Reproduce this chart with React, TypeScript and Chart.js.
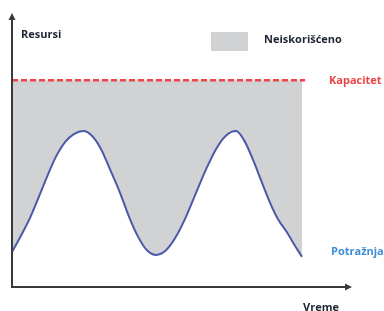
import React, { useEffect, useRef } from "react";
import { Chart, registerables } from "chart.js";

Chart.register(...registerables);

// Time axis positions (arbitrary units) and demand values
const demandX = [0, 2.6, 5.3, 7.9, 10.3, 12.9, 15.6, 18.2, 20.9, 23.5, 26.2, 28.8, 31.8, 34.4, 37.1, 39.7, 42.4, 45.3, 48.2, 51.2, 54.1, 57.1, 60.0, 62.9, 65.9, 68.2, 70.9, 73.2, 75.9, 78.2, 80.9, 82.9, 85.3];
const demandY = [12.8, 18.6, 25.2, 32.9, 40.2, 47.5, 52.9, 55.8, 56.9, 55.2, 50.3, 43.0, 34.3, 25.7, 18.3, 13.4, 11.7, 13.4, 18.3, 25.7, 34.3, 43.0, 50.3, 55.2, 56.9, 53.7, 46.4, 39.1, 30.7, 24.8, 19.9, 15.7, 11.0];
const capacityX = [0, 86.2];
const capacityValue = 75.5;

const yLabel = "Resursi";
const xLabel = "Vreme";
const legendLabel = "Neiskorišćeno";
const capacityLabel = "Kapacitet";
const demandLabel = "Potražnja";

const GRAY = "#d1d2d4";
const RED = "#ef4446";
const BLUE = "#4a5aa8";
const BLUE_TEXT = "#3d8ed8";
const DARK = "#1e2532";
const AXIS = "#3a3a3a";
const FONT = "bold 11px 'Open Sans', Lato, sans-serif";

const decorPlugin = {
  id: "decor",
  afterDraw(chart: any) {
    const { ctx, chartArea, scales } = chart;
    const { left, top, right, bottom } = chartArea;
    ctx.save();
    // axes
    ctx.strokeStyle = AXIS;
    ctx.fillStyle = AXIS;
    ctx.lineWidth = 2;
    ctx.beginPath();
    ctx.moveTo(left, top + 4);
    ctx.lineTo(left, bottom);
    ctx.lineTo(right - 4, bottom);
    ctx.stroke();
    // arrow heads
    ctx.beginPath();
    ctx.moveTo(left, top);
    ctx.lineTo(left - 3.5, top + 7);
    ctx.lineTo(left + 3.5, top + 7);
    ctx.closePath();
    ctx.fill();
    ctx.beginPath();
    ctx.moveTo(right, bottom);
    ctx.lineTo(right - 7, bottom - 3.5);
    ctx.lineTo(right - 7, bottom + 3.5);
    ctx.closePath();
    ctx.fill();

    // texts
    ctx.font = FONT;
    ctx.textAlign = "left";
    ctx.textBaseline = "alphabetic";
    ctx.fillStyle = DARK;
    ctx.fillText(yLabel, 21, 38);
    ctx.fillText(xLabel, 303, 311);
    // legend
    ctx.fillStyle = GRAY;
    ctx.fillRect(211, 32, 37, 19);
    ctx.fillStyle = DARK;
    ctx.fillText(legendLabel, 264, 43);
    // series labels
    const yCap = scales.y.getPixelForValue(capacityValue);
    ctx.fillStyle = RED;
    ctx.fillText(capacityLabel, 329, yCap + 3.5);
    const yDem = scales.y.getPixelForValue(demandY[demandY.length - 1]);
    ctx.fillStyle = BLUE_TEXT;
    ctx.fillText(demandLabel, 331, yDem - 2);
    ctx.restore();
  },
};

export default function App() {
  const ref = useRef<HTMLCanvasElement | null>(null);
  useEffect(() => {
    if (!ref.current) return;
    const chart = new Chart(ref.current, {
      type: "line",
      data: {
        datasets: [
          {
            label: demandLabel,
            data: demandX.map((x, i) => ({ x, y: demandY[i] })),
            borderColor: BLUE,
            borderWidth: 2,
            pointRadius: 0,
            cubicInterpolationMode: "monotone",
            fill: { value: capacityValue },
            backgroundColor: GRAY,
            order: 1,
          },
          {
            label: capacityLabel,
            data: capacityX.map((x) => ({ x, y: capacityValue })),
            borderColor: RED,
            borderWidth: 2.5,
            borderDash: [6, 3],
            pointRadius: 0,
            fill: false,
            order: 0,
          },
        ],
      },
      options: {
        animation: false,
        responsive: true,
        maintainAspectRatio: false,
        layout: { padding: { left: 12, top: 13, right: 32, bottom: 24 } },
        plugins: { legend: { display: false }, tooltip: { enabled: false } },
        scales: {
          x: { type: "linear", min: 0, max: 100, display: false },
          y: { type: "linear", min: 0, max: 100, display: false },
        },
      },
      plugins: [decorPlugin],
    } as any);
    return () => chart.destroy();
  }, []);
  return (
    <div style={{ position: "fixed", left: 0, top: 0, width: 384, height: 311, background: "#fff" }}>
      <canvas ref={ref} />
    </div>
  );
}
